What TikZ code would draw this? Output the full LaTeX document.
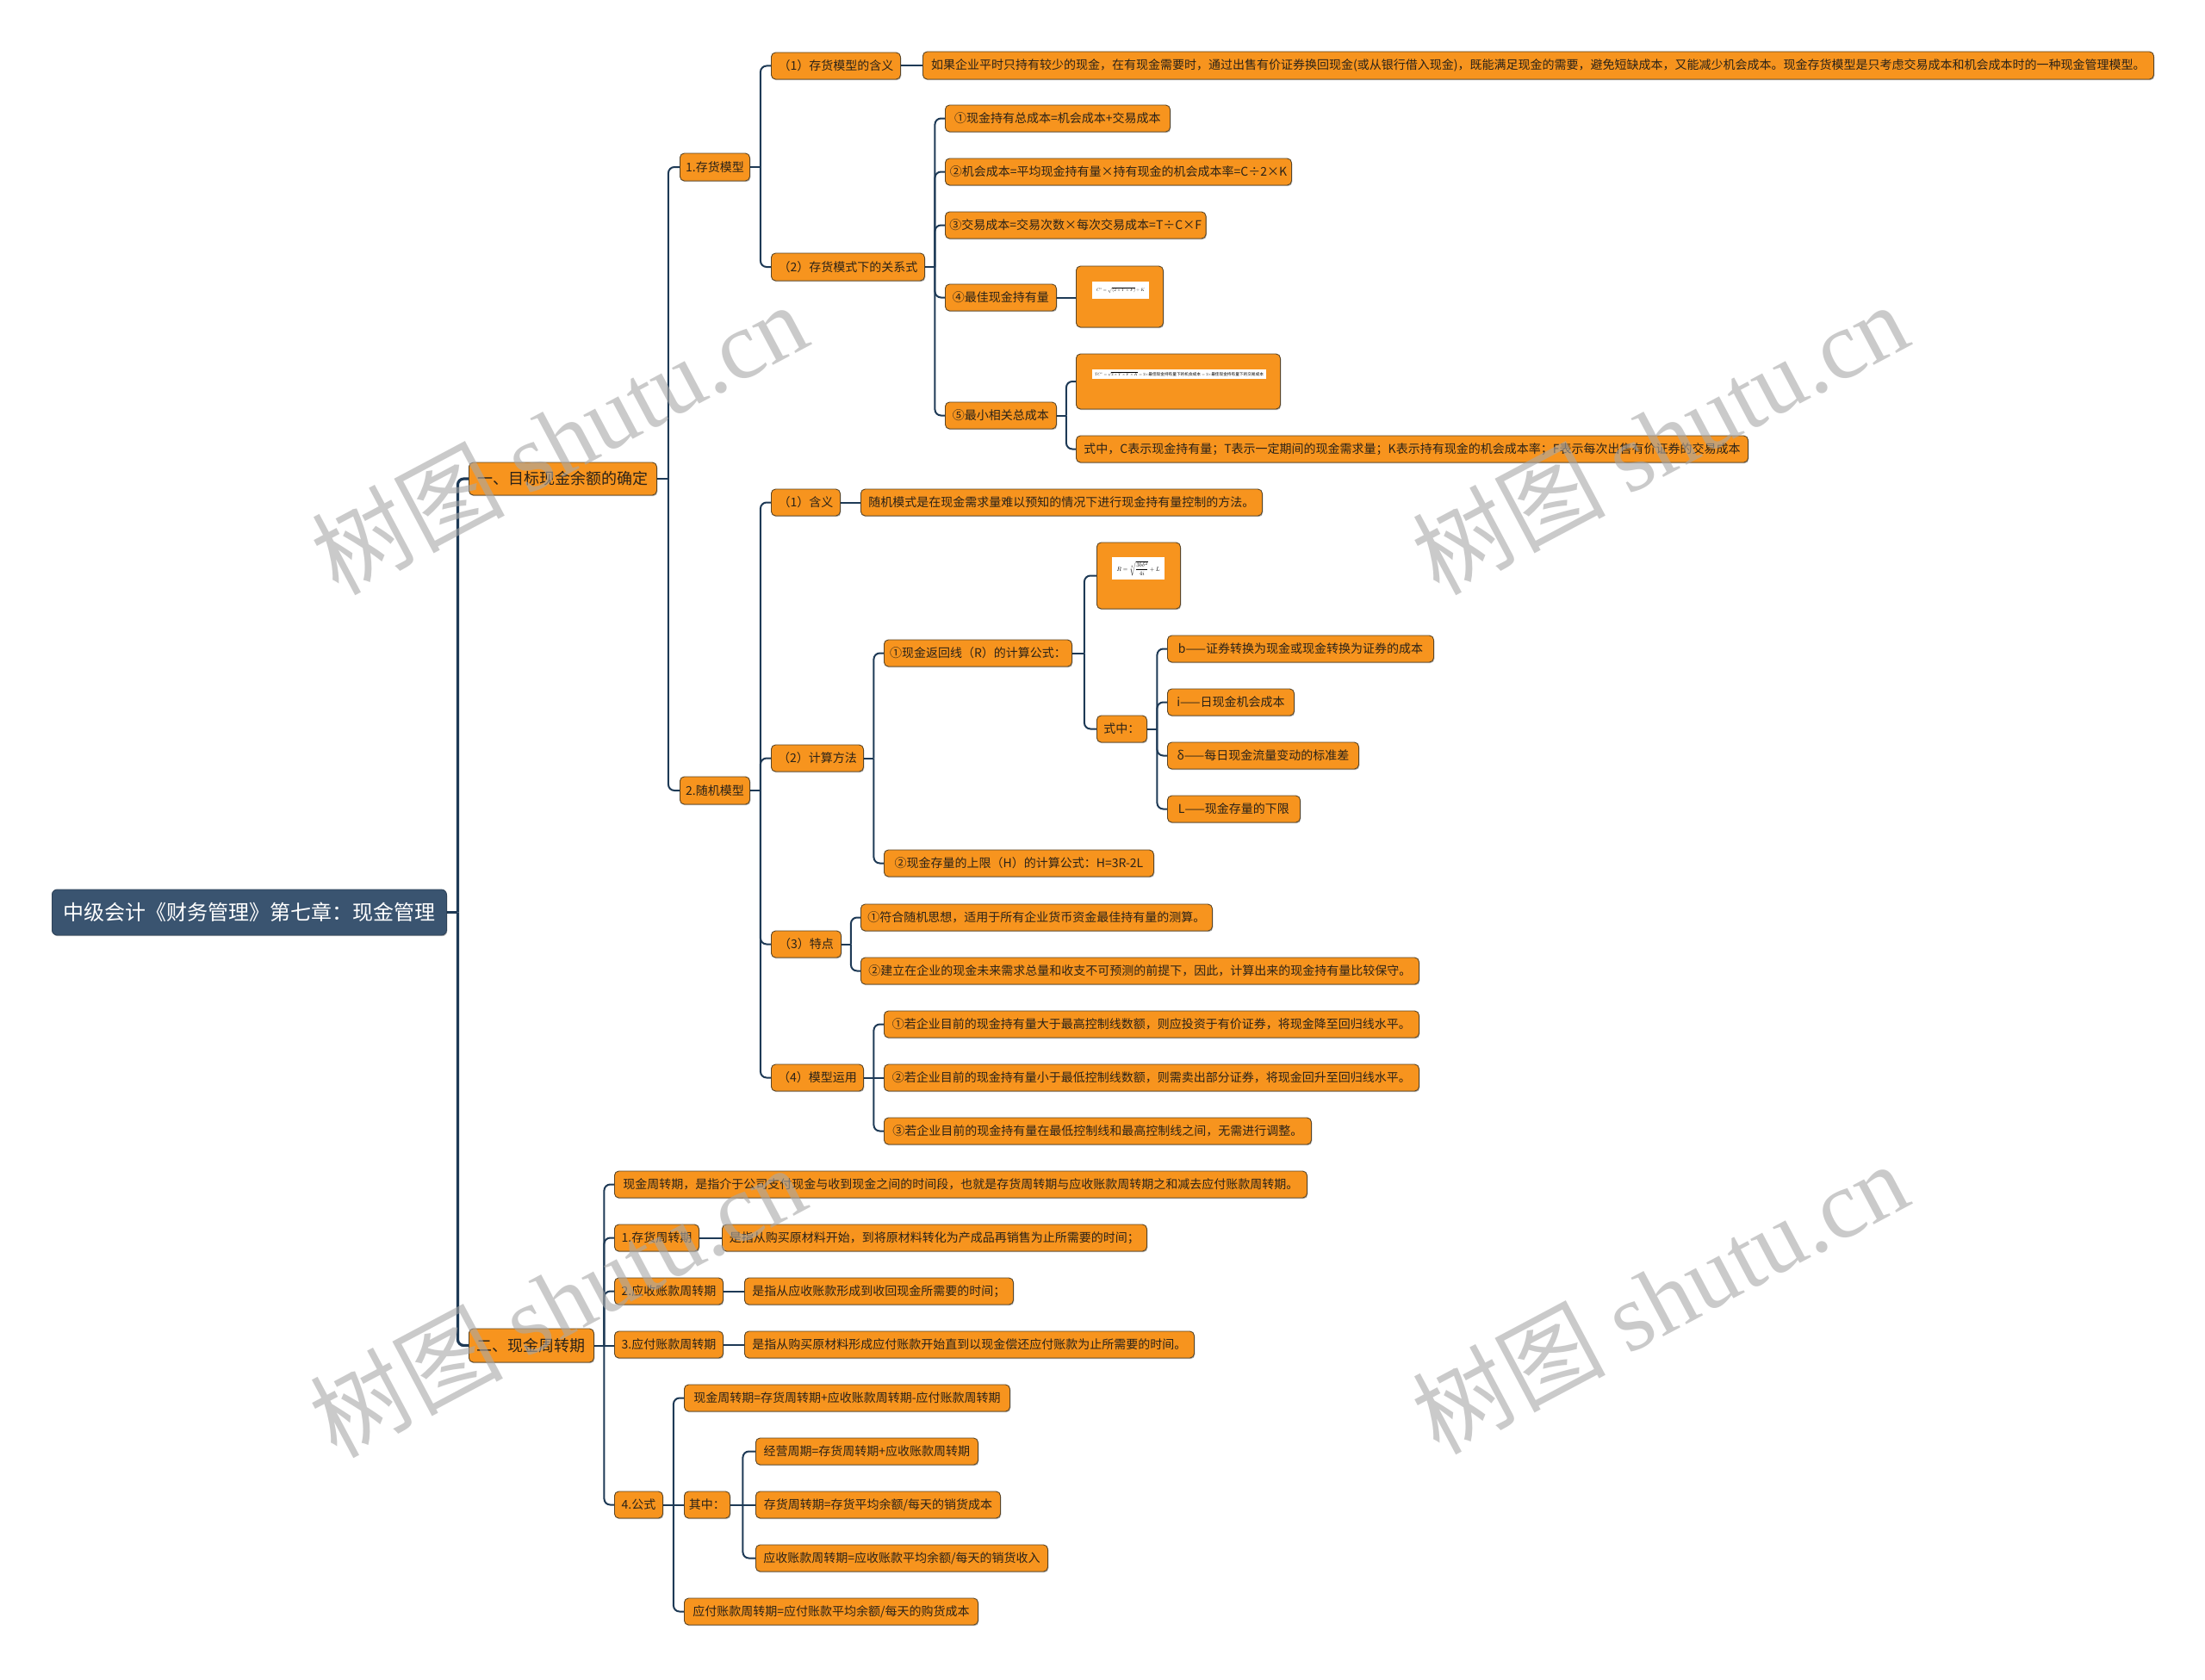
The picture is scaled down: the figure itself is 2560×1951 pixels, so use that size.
\documentclass[tikz,border=0pt]{standalone}
\usepackage[no-math]{fontspec}
\setmainfont{Noto Sans CJK SC}
\newfontfamily\wmlat{Liberation Serif}
\usetikzlibrary{calc,shadows}
\pgfdeclarelayer{bg}
\pgfsetlayers{bg,main}
\definecolor{boxfill}{HTML}{F7941E}
\definecolor{boxline}{HTML}{5A4526}
\definecolor{boxtext}{HTML}{2A2218}
\definecolor{linec}{HTML}{1E3A56}
\definecolor{rootc}{HTML}{3A5470}
\definecolor{wm}{HTML}{A8A8A8}
\tikzset{
  box/.style={draw=boxline, fill=boxfill, line width=0.9pt, rounded corners=5pt, text=boxtext,
    font=\fontsize{14}{16}\selectfont, inner xsep=5pt, inner ysep=0pt,
    drop shadow={shadow xshift=0.8pt, shadow yshift=-1.2pt, opacity=0.3, fill=black}},
  lvone/.style={box, font=\fontsize{18}{20}\selectfont},
  rootbox/.style={box, fill=rootc, draw=rootc!80!black, text=white, font=\fontsize{24}{28}\selectfont, rounded corners=6pt},
  conn/.style={draw=linec, line width=2pt},
  connthick/.style={draw=linec, line width=3.2pt},
  fbox/.style={fill=white, inner sep=0pt},
  wmark/.style={text=wm, text opacity=0.6, rotate=28, font=\fontsize{112}{114}\selectfont, inner sep=0pt}
}
\newcommand{\bx}[7][box]{\node[#1, anchor=west, minimum width={#5-#3}, minimum height={#6-#4}] (#2) at (#3,{(#4+#6)/2}) {#7};}
\newcommand{\link}[3][conn]{%
  \begin{pgfonlayer}{bg}
  \path let \p1=(#2.east), \p2=(#3.west) in ({(\x1+\x2)/2},\y1) coordinate (jn);
  \draw[#1] (#2.east) -- (jn);
  \draw[#1, rounded corners=7pt] (jn) |- (#3.west);
  \end{pgfonlayer}}
\newcommand{\slink}[3][conn]{%
  \begin{pgfonlayer}{bg}
  \draw[#1] (#2.east) -- (#2.east -| #3.west);
  \end{pgfonlayer}}
\begin{document}
\begin{tikzpicture}[x=1pt,y=-1pt]
\useasboundingbox (0,0) rectangle (2560,1951);
\begin{pgfonlayer}{bg}
\fill[white] (0,0) rectangle (2560,1951);
\end{pgfonlayer}

% root and level 1
\bx[rootbox]{root}{60}{1033}{518}{1086}{中级会计《财务管理》第七章：现金管理}
\bx[lvone]{yi}{544}{537}{762}{575}{一、目标现金余额的确定}
\bx[lvone]{er}{544}{1543}{689}{1582}{二、现金周转期}

% branch one
\bx{m1}{789}{178}{870}{210}{1.存货模型}
\bx{m2}{789}{902}{870}{934}{2.随机模型}
\bx{a1}{895}{61}{1045}{92}{（1）存货模型的含义}
\bx{a1t}{1071}{60}{2500}{92}{如果企业平时只持有较少的现金，在有现金需要时，通过出售有价证券换回现金(或从银行借入现金)，既能满足现金的需要，避免短缺成本，又能减少机会成本。现金存货模型是只考虑交易成本和机会成本时的一种现金管理模型。}
\bx{a2}{895}{294}{1073}{326}{（2）存货模式下的关系式}
\bx{r1}{1097}{122}{1358}{153}{①现金持有总成本=机会成本+交易成本}
\bx{r2}{1097}{184}{1499}{215}{②机会成本=平均现金持有量×持有现金的机会成本率=C÷2×K}
\bx{r3}{1097}{246}{1399}{277}{③交易成本=交易次数×每次交易成本=T÷C×F}
\bx{r4}{1097}{330}{1226}{361}{④最佳现金持有量}
\bx{f1}{1249}{309}{1350}{380}{}
\node[fbox, minimum width=66, minimum height=20] (f1img) at (1301,337) {\resizebox{56pt}{!}{$C^{*}=\sqrt{(2\times T\times F)}\div K$}};
\bx{r5}{1097}{467}{1226}{498}{⑤最小相关总成本}
\bx{f2}{1249}{411}{1486}{475}{}
\node[fbox, minimum width=202, minimum height=11] (f2img) at (1369,434.5) {\resizebox{196pt}{!}{$TC^{*}=\sqrt{2\times T\times F\times K}=2\times$最佳现金持有量下的机会成本$\;=2\times$最佳现金持有量下的交易成本}};
\bx{r5t}{1249}{506}{2029}{537}{式中，C表示现金持有量；T表示一定期间的现金需求量；K表示持有现金的机会成本率；F表示每次出售有价证券的交易成本}

\bx{b1}{895}{568}{975}{599}{（1）含义}
\bx{b1t}{999}{568}{1465}{599}{随机模式是在现金需求量难以预知的情况下进行现金持有量控制的方法。}
\bx{b2}{895}{865}{1002}{896}{（2）计算方法}
\bx{c1}{1026}{743}{1244}{774}{①现金返回线（R）的计算公式：}
\bx{fR}{1273}{630}{1370}{707}{}
\node[fbox, minimum width=61, minimum height=26] (fRimg) at (1321.5,660) {\resizebox{50pt}{!}{$R=\sqrt[3]{\displaystyle\frac{3b\delta^{2}}{4i}}+L$}};
\bx{sz}{1273}{831}{1331}{862}{式中：}
\bx{d1}{1355}{738}{1664}{769}{b——证券转换为现金或现金转换为证券的成本}
\bx{d2}{1355}{800}{1502}{831}{i——日现金机会成本}
\bx{d3}{1355}{862}{1577}{893}{δ——每日现金流量变动的标准差}
\bx{d4}{1355}{924}{1509}{955}{L——现金存量的下限}
\bx{c2}{1026}{987}{1339}{1018}{②现金存量的上限（H）的计算公式：H=3R-2L}
\bx{b3}{895}{1081}{976}{1112}{（3）特点}
\bx{e1}{999}{1050}{1407}{1081}{①符合随机思想，适用于所有企业货币资金最佳持有量的测算。}
\bx{e2}{999}{1112}{1647}{1143}{②建立在企业的现金未来需求总量和收支不可预测的前提下，因此，计算出来的现金持有量比较保守。}
\bx{b4}{895}{1236}{1002}{1267}{（4）模型运用}
\bx{g1}{1026}{1174}{1647}{1205}{①若企业目前的现金持有量大于最高控制线数额，则应投资于有价证券，将现金降至回归线水平。}
\bx{g2}{1026}{1236}{1647}{1267}{②若企业目前的现金持有量小于最低控制线数额，则需卖出部分证券，将现金回升至回归线水平。}
\bx{g3}{1026}{1298}{1522}{1329}{③若企业目前的现金持有量在最低控制线和最高控制线之间，无需进行调整。}

% branch two
\bx{h0}{713}{1360}{1517}{1391}{现金周转期，是指介于公司支付现金与收到现金之间的时间段，也就是存货周转期与应收账款周转期之和减去应付账款周转期。}
\bx{h1}{713}{1422}{811}{1453}{1.存货周转期}
\bx{h1t}{838}{1422}{1331}{1453}{是指从购买原材料开始，到将原材料转化为产成品再销售为止所需要的时间；}
\bx{h2}{713}{1484}{839}{1515}{2.应收账款周转期}
\bx{h2t}{864}{1484}{1176}{1515}{是指从应收账款形成到收回现金所需要的时间；}
\bx{h3}{713}{1546}{839}{1577}{3.应付账款周转期}
\bx{h3t}{864}{1546}{1386}{1577}{是指从购买原材料形成应付账款开始直到以现金偿还应付账款为止所需要的时间。}
\bx{h4}{713}{1732}{769}{1763}{4.公式}
\bx{k1}{794}{1608}{1172}{1639}{现金周转期=存货周转期+应收账款周转期-应付账款周转期}
\bx{k2}{794}{1732}{847}{1763}{其中：}
\bx{k3}{794}{1856}{1135}{1887}{应付账款周转期=应付账款平均余额/每天的购货成本}
\bx{q1}{877}{1670}{1135}{1701}{经营周期=存货周转期+应收账款周转期}
\bx{q2}{877}{1732}{1161}{1763}{存货周转期=存货平均余额/每天的销货成本}
\bx{q3}{877}{1794}{1216}{1825}{应收账款周转期=应收账款平均余额/每天的销货收入}

% connectors
\link[connthick]{root}{yi}
\link[connthick]{root}{er}
\link{yi}{m1}
\link{yi}{m2}
\link{m1}{a1}
\link{m1}{a2}
\slink{a1}{a1t}
\link{a2}{r1}
\link{a2}{r2}
\link{a2}{r3}
\link{a2}{r4}
\link{a2}{r5}
\slink{r4}{f1}
\link{r5}{f2}
\link{r5}{r5t}
\link{m2}{b1}
\link{m2}{b2}
\link{m2}{b3}
\link{m2}{b4}
\slink{b1}{b1t}
\link{b2}{c1}
\link{b2}{c2}
\link{c1}{fR}
\link{c1}{sz}
\link{sz}{d1}
\link{sz}{d2}
\link{sz}{d3}
\link{sz}{d4}
\link{b3}{e1}
\link{b3}{e2}
\link{b4}{g1}
\slink{b4}{g2}
\link{b4}{g3}
\link{er}{h0}
\link{er}{h1}
\link{er}{h2}
\slink{er}{h3}
\link{er}{h4}
\slink{h1}{h1t}
\slink{h2}{h2t}
\slink{h3}{h3t}
\link{h4}{k1}
\slink{h4}{k2}
\link{h4}{k3}
\link{k2}{q1}
\slink{k2}{q2}
\link{k2}{q3}

% watermarks
\node[wmark] (wm1) at (649,508) {树图 {\wmlat shutu.cn}};
\node[wmark] (wm2) at (1927,508) {树图 {\wmlat shutu.cn}};
\node[wmark] (wm3) at (647,1510) {树图 {\wmlat shutu.cn}};
\node[wmark] (wm4) at (1927,1506) {树图 {\wmlat shutu.cn}};
\end{tikzpicture}
\end{document}
